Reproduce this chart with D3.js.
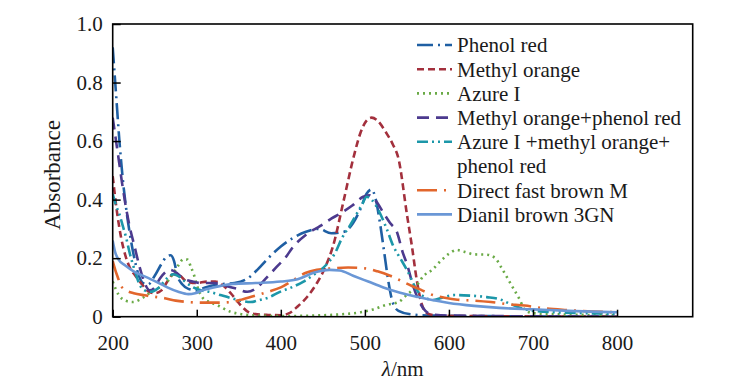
<!DOCTYPE html>
<html>
<head>
<meta charset="utf-8">
<script src="https://cdn.jsdelivr.net/npm/d3@7/dist/d3.min.js"></script>
<style>
  body { margin: 0; background: #fff; }
  text { font-family: "Liberation Serif", "Times New Roman", serif; fill: #1a1a1a; }
</style>
</head>
<body>
<script>
// absorption spectra (wavelength nm, absorbance)

var xTicks = [200, 300, 400, 500, 600, 700, 800];
var yTicks = [0, 0.2, 0.4, 0.6, 0.8, 1.0];

var phenolRedWl  = [200, 204, 208, 212, 216, 220, 225, 230, 236, 242, 250, 258, 264, 269, 273, 277, 283, 290, 300, 310, 325, 345, 360, 372, 385, 400, 415, 430, 445, 460, 475, 486, 495, 502, 508, 513, 518, 523, 528, 533, 540, 555, 580, 650, 800];
var phenolRedAbs = [0.92, 0.76, 0.6, 0.47, 0.37, 0.29, 0.21, 0.15, 0.115, 0.11, 0.14, 0.18, 0.205, 0.21, 0.19, 0.14, 0.11, 0.095, 0.09, 0.1, 0.11, 0.115, 0.13, 0.16, 0.2, 0.24, 0.27, 0.29, 0.3, 0.285, 0.29, 0.32, 0.37, 0.42, 0.435, 0.4, 0.32, 0.22, 0.12, 0.05, 0.02, 0.008, 0.004, 0.002, 0.0];

var methylOrangeWl  = [200, 205, 210, 215, 220, 227, 235, 243, 250, 258, 265, 272, 280, 288, 300, 312, 322, 332, 342, 352, 362, 372, 385, 400, 410, 420, 432, 443, 453, 462, 475, 487, 495, 502, 508, 515, 525, 533, 540, 550, 556, 562, 568, 575, 590, 800];
var methylOrangeAbs = [0.48, 0.36, 0.27, 0.21, 0.17, 0.14, 0.11, 0.085, 0.08, 0.09, 0.12, 0.145, 0.14, 0.12, 0.115, 0.12, 0.12, 0.105, 0.075, 0.04, 0.015, 0.008, 0.006, 0.005, 0.012, 0.035, 0.07, 0.115, 0.17, 0.24, 0.4, 0.55, 0.63, 0.67, 0.68, 0.67, 0.63, 0.59, 0.54, 0.35, 0.24, 0.12, 0.04, 0.01, 0.003, 0.0];

var azureWl  = [200, 207, 215, 224, 236, 246, 256, 265, 272, 278, 284, 289, 293, 297, 301, 307, 315, 324, 340, 352, 370, 400, 440, 470, 495, 510, 525, 540, 550, 560, 570, 580, 590, 600, 609, 618, 630, 645, 655, 663, 671, 678, 684, 690, 700, 730, 800];
var azureAbs = [0.12, 0.075, 0.055, 0.05, 0.065, 0.085, 0.1, 0.12, 0.148, 0.175, 0.196, 0.195, 0.17, 0.14, 0.1, 0.065, 0.05, 0.04, 0.017, 0.009, 0.004, 0.002, 0.004, 0.008, 0.015, 0.025, 0.04, 0.05, 0.075, 0.1, 0.14, 0.16, 0.19, 0.215, 0.228, 0.222, 0.213, 0.212, 0.2, 0.165, 0.125, 0.09, 0.06, 0.025, 0.012, 0.008, 0.005];

var moPrWl  = [200, 204, 208, 212, 216, 220, 226, 232, 238, 244, 250, 256, 262, 268, 276, 284, 295, 305, 320, 335, 348, 360, 372, 382, 395, 405, 415, 430, 447, 460, 471, 485, 498, 505, 512, 522, 530, 538, 545, 550, 558, 565, 572, 580, 600, 800];
var moPrAbs = [0.68, 0.6, 0.52, 0.44, 0.37, 0.31, 0.24, 0.17, 0.115, 0.09, 0.1, 0.13, 0.15, 0.16, 0.15, 0.13, 0.12, 0.115, 0.115, 0.105, 0.095, 0.085, 0.1, 0.13, 0.17, 0.2, 0.24, 0.28, 0.31, 0.335, 0.353, 0.38, 0.41, 0.415, 0.4, 0.355, 0.32, 0.29, 0.22, 0.18, 0.1, 0.05, 0.02, 0.008, 0.004, 0.0];

var mixWl  = [200, 204, 208, 212, 216, 220, 226, 232, 238, 245, 255, 264, 272, 280, 288, 296, 305, 315, 328, 340, 352, 364, 376, 385, 399, 411, 427, 440, 455, 465, 473, 482, 490, 497, 502, 508, 516, 526, 534, 542, 550, 562, 572, 581, 595, 607, 625, 645, 660, 672, 685, 700, 750, 800];
var mixAbs = [0.42, 0.38, 0.35, 0.31, 0.27, 0.22, 0.16, 0.11, 0.09, 0.085, 0.1, 0.13, 0.145, 0.135, 0.115, 0.1, 0.09, 0.085, 0.074, 0.064, 0.055, 0.05, 0.058, 0.065, 0.085, 0.098, 0.12, 0.145, 0.18, 0.22, 0.27, 0.31, 0.35, 0.385, 0.41, 0.4, 0.365, 0.3, 0.24, 0.2, 0.16, 0.09, 0.065, 0.057, 0.068, 0.074, 0.072, 0.067, 0.06, 0.045, 0.03, 0.02, 0.013, 0.01];

var brownMWl  = [200, 203, 206, 210, 216, 225, 238, 250, 262, 275, 290, 305, 325, 340, 355, 370, 385, 400, 415, 430, 443, 460, 480, 500, 515, 530, 545, 556, 568, 580, 595, 610, 630, 650, 670, 690, 710, 740, 770, 800];
var brownMAbs = [0.19, 0.16, 0.135, 0.105, 0.09, 0.08, 0.073, 0.068, 0.063, 0.055, 0.05, 0.048, 0.048, 0.05, 0.06, 0.072, 0.085, 0.1, 0.125, 0.15, 0.16, 0.165, 0.168, 0.165, 0.155, 0.14, 0.12, 0.105, 0.09, 0.075, 0.065, 0.058, 0.055, 0.05, 0.043, 0.038, 0.03, 0.023, 0.018, 0.015];

var dianilWl  = [200, 203, 207, 215, 225, 240, 255, 265, 278, 290, 298, 308, 320, 343, 370, 400, 420, 439, 458, 470, 486, 504, 522, 542, 562, 580, 600, 630, 660, 700, 750, 800];
var dianilAbs = [0.26, 0.22, 0.195, 0.175, 0.155, 0.135, 0.115, 0.1, 0.085, 0.077, 0.08, 0.091, 0.1, 0.112, 0.115, 0.12, 0.128, 0.15, 0.16, 0.158, 0.14, 0.12, 0.1, 0.082, 0.068, 0.057, 0.047, 0.037, 0.03, 0.025, 0.019, 0.015];

var series = [
  { name: ["Phenol red"], wl: phenolRedWl, abs: phenolRedAbs, color: "#1f5fa3", dash: "16,5,2,5" },
  { name: ["Methyl orange"], wl: methylOrangeWl, abs: methylOrangeAbs, color: "#a3303d", dash: "7,4" },
  { name: ["Azure I"], wl: azureWl, abs: azureAbs, color: "#6aaa46", dash: "2,4" },
  { name: ["Methyl orange+phenol red"], wl: moPrWl, abs: moPrAbs, color: "#4c3a8e", dash: "12,7" },
  { name: ["Azure I +methyl orange+", "phenol red"], wl: mixWl, abs: mixAbs, color: "#1c97a9", dash: "11,4,2,4,2,4" },
  { name: ["Direct fast brown M"], wl: brownMWl, abs: brownMAbs, color: "#e2662c", dash: "20,7,2,7" },
  { name: ["Dianil brown 3GN"], wl: dianilWl, abs: dianilAbs, color: "#6a97d6", dash: null }
];

var width = 749, height = 386;
var plotL = 112.7, plotR = 692.7, plotT = 24, plotB = 316.7;

var svg = d3.select("body").append("svg")
  .attr("width", width)
  .attr("height", height);

var x = d3.scaleLinear().domain([200, 890]).range([plotL, plotR]);
var y = d3.scaleLinear().domain([0, 1]).range([plotB, plotT]);

svg.append("clipPath").attr("id", "plot")
  .append("rect")
  .attr("x", plotL).attr("y", plotT)
  .attr("width", plotR - plotL).attr("height", plotB - plotT);

var line = d3.line()
  .x(function(d) { return x(d[0]); })
  .y(function(d) { return y(d[1]); })
  .curve(d3.curveMonotoneX);

series.forEach(function(s) {
  var pts = s.wl.map(function(w, i) { return [w, s.abs[i]]; });
  svg.append("path")
    .attr("clip-path", "url(#plot)")
    .attr("d", line(pts))
    .attr("fill", "none")
    .attr("stroke", s.color)
    .attr("stroke-width", 2.6)
    .attr("stroke-dasharray", s.dash);
});

// axes, ticks pointing inward
var xAxis = svg.append("g")
  .attr("transform", "translate(0," + plotB + ")")
  .call(d3.axisBottom(x).tickValues(xTicks).tickSizeInner(-7).tickSizeOuter(0).tickPadding(18));
var yAxis = svg.append("g")
  .attr("transform", "translate(" + plotL + ",0)")
  .call(d3.axisLeft(y).tickValues(yTicks).tickSizeInner(-8).tickSizeOuter(0).tickPadding(10)
    .tickFormat(function(d) { return d === 0 ? "0" : d.toFixed(1); }));

[xAxis, yAxis].forEach(function(g) {
  g.select(".domain").remove();
  g.selectAll(".tick line").attr("stroke", "#000").attr("stroke-width", 1.5);
  g.selectAll(".tick text").attr("font-size", 21).attr("fill", "#1a1a1a")
    .style("font-family", "'Liberation Serif', serif");
});

svg.append("rect")
  .attr("x", plotL).attr("y", plotT)
  .attr("width", plotR - plotL).attr("height", plotB - plotT)
  .attr("fill", "none")
  .attr("stroke", "#000")
  .attr("stroke-width", 1.6);

svg.append("text")
  .attr("transform", "translate(60,175) rotate(-90)")
  .attr("text-anchor", "middle")
  .attr("font-size", 23)
  .text("Absorbance");

var xt = svg.append("text")
  .attr("x", (plotL + plotR) / 2).attr("y", 376)
  .attr("text-anchor", "middle")
  .attr("font-size", 21);
xt.append("tspan").attr("font-style", "italic").text("λ");
xt.append("tspan").text("/nm");

// legend
var legend = svg.append("g");
var row = 0, rowH = 24.2, ly0 = 45;
series.forEach(function(s) {
  var ly = ly0 + row * rowH;
  legend.append("line")
    .attr("x1", 417).attr("x2", 452)
    .attr("y1", ly).attr("y2", ly)
    .attr("stroke", s.color)
    .attr("stroke-width", 2.6)
    .attr("stroke-dasharray", s.dash);
  s.name.forEach(function(t, j) {
    legend.append("text")
      .attr("x", 457).attr("y", ly + j * rowH)
      .attr("dy", "0.35em")
      .attr("font-size", 21)
      .text(t);
  });
  row += s.name.length;
});
</script>
</body>
</html>
